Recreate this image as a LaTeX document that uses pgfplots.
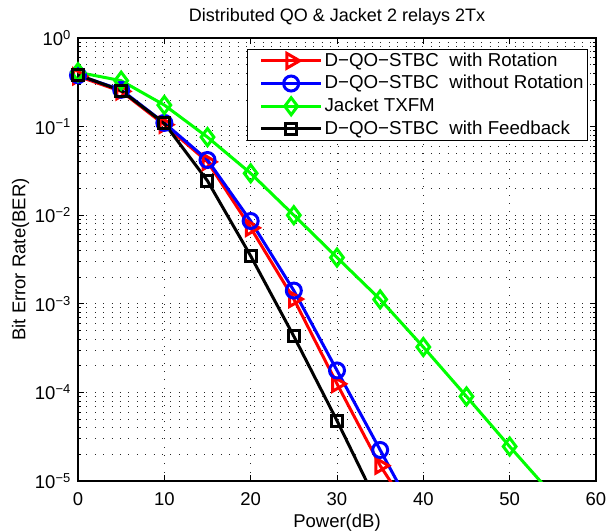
\documentclass[border=0pt]{standalone}
\usepackage{fontspec}
\setmainfont{Liberation Sans}
\usepackage{pgfplots}
\pgfplotsset{compat=1.18}
\definecolor{mred}{RGB}{255,0,0}
\definecolor{mblue}{RGB}{0,0,255}
\definecolor{mgreen}{RGB}{0,255,0}
\begin{document}
\fontsize{18bp}{21.6bp}\selectfont
\begin{tikzpicture}
\path[use as bounding box] (-78bp,-51bp) rectangle (529bp,481bp);
\begin{axis}[
  at={(0,0)}, anchor=south west,
  scale only axis, width=518bp, height=443bp,
  xmin=0, xmax=60, ymin=1e-5, ymax=1, ymode=log,
  xtick={0,10,20,30,40,50,60},
  ytick={1e-5,1e-4,1e-3,1e-2,1e-1,1},
  yticklabels={10\textsuperscript{−5},10\textsuperscript{−4},10\textsuperscript{−3},10\textsuperscript{−2},10\textsuperscript{−1},10\textsuperscript{0}},
  minor ytick={2e-5,3e-5,4e-5,5e-5,6e-5,7e-5,8e-5,9e-5,
               2e-4,3e-4,4e-4,5e-4,6e-4,7e-4,8e-4,9e-4,
               2e-3,3e-3,4e-3,5e-3,6e-3,7e-3,8e-3,9e-3,
               2e-2,3e-2,4e-2,5e-2,6e-2,7e-2,8e-2,9e-2,
               2e-1,3e-1,4e-1,5e-1,6e-1,7e-1,8e-1,9e-1},
  xmajorgrids, ymajorgrids, yminorgrids,
  major grid style={black!85, line width=0.8bp, dash pattern=on 0.9bp off 7.5bp},
  minor grid style={black!85, line width=0.8bp, dash pattern=on 0.9bp off 7.5bp},
  tick align=inside,
  major tick length=6bp, minor tick length=3.5bp,
  every tick/.style={black, line width=0.8bp},
  axis line style={black, line width=1.2bp},
  /pgf/number format/assume math mode=true,
  ticklabel style={font=\fontsize{18.5bp}{20bp}\selectfont},
  xticklabel style={yshift=-5bp},
  yticklabel style={xshift=-1bp},
  title={Distributed QO \& Jacket 2 relays 2Tx},
  title style={font=\fontsize{18bp}{20bp}\selectfont, yshift=1bp},
  xlabel={Power(dB)},
  ylabel={Bit Error Rate(BER)},
  label style={font=\fontsize{18.5bp}{20bp}\selectfont},
  xlabel style={yshift=3bp},
  ylabel style={yshift=-6.5bp},
  legend cell align=left,
  legend style={at={(0.9846,0.9750)}, anchor=north east, draw=black, line width=1.2bp,
    font=\fontsize{18.7bp}{21bp}\selectfont, inner xsep=2bp, inner ysep=1bp,
    row sep=2.5bp},
  legend image code/.code={\path (-10bp,0bp); \draw[mark repeat=2,mark phase=2] plot coordinates {(0bp,0bp) (30bp,0bp) (60bp,0bp)};},
  every axis plot/.append style={line width=3bp},
]
\addplot[mred, mark=triangle, mark size=8.5bp, mark options={rotate=-90, solid}] coordinates {
(0,0.37)(5,0.25)(10,0.105)(15,0.040)(20,0.0072)(25,0.00113)(30,1.25e-4)(35,1.49e-5)(40,2.7e-6)};
\addlegendentry{D−QO−STBC\ \ with Rotation}
\addplot[mblue, mark=o, mark size=7.5bp, mark options={solid}] coordinates {
(0,0.38)(5,0.26)(10,0.11)(15,0.042)(20,0.0086)(25,0.00141)(30,1.77e-4)(35,2.24e-5)(40,2.8e-6)};
\addlegendentry{D−QO−STBC\ \ without Rotation}
\addplot[mgreen, mark=diamond, mark size=8.5bp, mark options={solid}] coordinates {
(0,0.41)(5,0.33)(10,0.175)(15,0.076)(20,0.0297)(25,0.0100)(30,0.00333)(35,0.00112)(40,3.25e-4)(45,9.0e-5)(50,2.45e-5)(55,6.9e-6)};
\addlegendentry{Jacket TXFM}
\addplot[black, mark=square, mark size=5.5bp, mark options={solid}] coordinates {
(0,0.384)(5,0.255)(10,0.109)(15,0.0244)(20,0.00347)(25,4.3e-4)(30,4.8e-5)(35,4.8e-6)};
\addlegendentry{D−QO−STBC\ \ with Feedback}
\end{axis}
\end{tikzpicture}
\end{document}
